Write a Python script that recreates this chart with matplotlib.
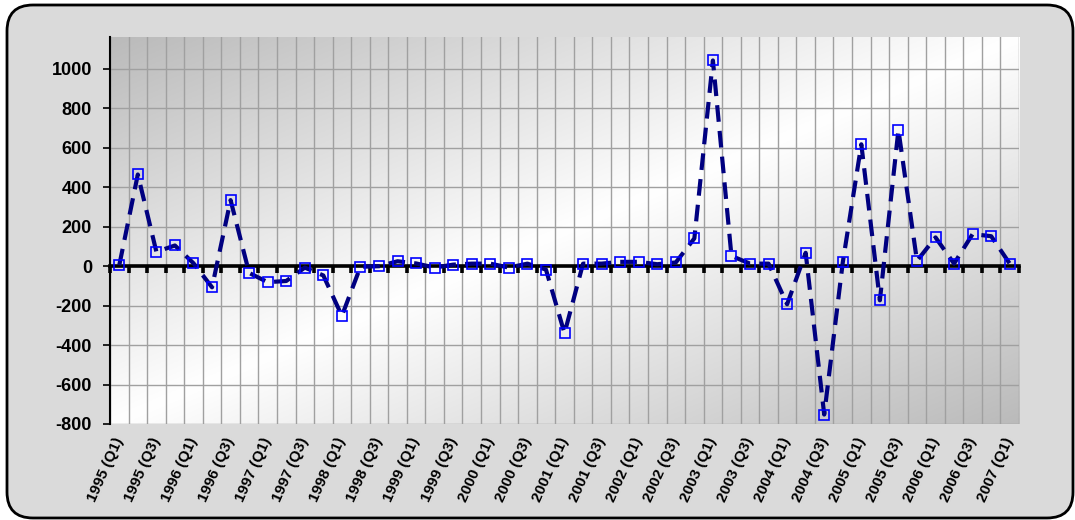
import numpy as np
import matplotlib
matplotlib.use("Agg")
import matplotlib.pyplot as plt
from matplotlib.patches import FancyBboxPatch
from matplotlib.transforms import IdentityTransform

plt.rcParams['font.family'] = ['Liberation Sans', 'DejaVu Sans']

# Quarterly categories 1995 Q1 .. 2007 Q1
years = list(range(1995, 2008))
quarters = [f"{y} (Q{q})" for y in years for q in range(1, 5)][:49]

values = [5, 465, 73, 105, 15, -107, 335, -34, -81, -75,
          -7, -47, -252, -3, 0, 25, 14, -7, 8, 13,
          13, -7, 13, -17, -340, 13, 13, 22, 22, 10,
          19, 141, 1043, 52, 13, 13, -193, 68, -752, 19,
          618, -173, 691, 27, 146, 13, 163, 152, 13]

y_ticks = [-800, -600, -400, -200, 0, 200, 400, 600, 800, 1000]
y_min, y_max = -800, 1162


def draw_frame(fig):
    # grey rounded panel with a dark border round the whole chart
    panel = FancyBboxPatch((7, 2), 1066, 513,
                           boxstyle="round,pad=0,rounding_size=26",
                           transform=IdentityTransform(),
                           facecolor='#dadada', edgecolor='black', linewidth=2.0,
                           zorder=-5)
    fig.patches.append(panel)


def draw_gradient(ax):
    # diagonal grey -> white -> grey fill of the plot area
    xs = np.linspace(0, 1, 300)
    ys = np.linspace(0, 1, 200)
    gx, gy = np.meshgrid(xs, ys)
    s = (gx + gy) / 2.0
    shade = 1.0 - 0.27 * np.abs(s - 0.5) * 2
    img = np.dstack([shade, shade, shade])
    ax.imshow(img, extent=(0, 1, 0, 1), transform=ax.transAxes,
              aspect='auto', zorder=0, origin='upper')


def main():
    fig = plt.figure(figsize=(10.75, 5.2), dpi=100)
    fig.patch.set_facecolor('white')
    draw_frame(fig)

    ax = fig.add_axes([110 / 1075, (520 - 424) / 520, 909 / 1075, 387 / 520])
    ax.set_facecolor('none')
    draw_gradient(ax)

    n = len(values)
    x = np.arange(n)
    ax.set_xlim(-0.5, n - 0.5)
    ax.set_ylim(y_min, y_max)

    # grid lines: one per category boundary and per 200 units
    for b in np.arange(n + 1) - 0.5:
        ax.axvline(b, color='#a0a0a0', linewidth=1, zorder=1)
    for t in y_ticks:
        ax.axhline(t, color='#a0a0a0', linewidth=1, zorder=1)

    ax.plot(x, values, color='#000080', linewidth=3, dashes=(4, 2.2),
            marker='s', markersize=6.5, markerfacecolor='none',
            markeredgecolor='#0000ff', markeredgewidth=1.2, zorder=4)

    # zero line carries the category tick marks
    ax.spines['bottom'].set_position(('data', 0))
    ax.spines['bottom'].set_linewidth(2.6)
    ax.spines['bottom'].set_zorder(3)
    ax.set_xticks(np.arange(n + 1) - 0.5)
    ax.tick_params(axis='x', direction='out', length=5, width=2.6,
                   labelbottom=False, color='black')
    ax.spines['top'].set_visible(False)
    ax.spines['right'].set_visible(False)
    ax.spines['left'].set_linewidth(1.5)

    ax.set_yticks(y_ticks)
    ax.set_yticklabels([str(t) for t in y_ticks], fontsize=13, fontweight='bold')
    ax.tick_params(axis='y', direction='out', length=5, width=1.2, pad=8)

    # category labels at the bottom, every second quarter
    sec = ax.secondary_xaxis('bottom')
    sec.spines['bottom'].set_visible(False)
    sec.set_xticks(x[::2])
    sec.set_xticklabels(quarters[::2], rotation=66, ha='right', va='center',
                        rotation_mode='anchor', fontsize=11, fontweight='bold')
    sec.tick_params(axis='x', length=0, pad=10)

    fig.savefig('out.png', dpi=100)


if __name__ == "__main__":
    main()
